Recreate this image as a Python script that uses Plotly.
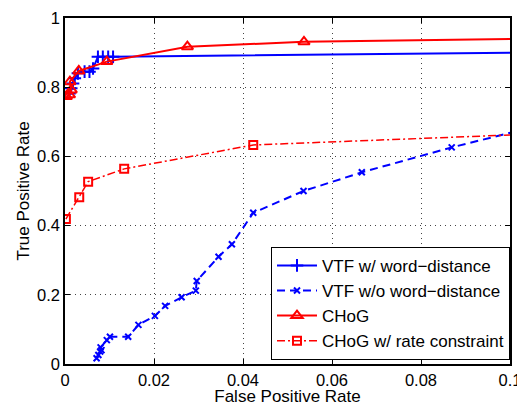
import plotly.graph_objects as go

# VTF w/ word-distance
vtf_wd_x = [0.0010, 0.0014, 0.0018, 0.0022, 0.0029, 0.0044, 0.0055, 0.0063, 0.0074, 0.0085, 0.0097, 0.0108, 0.12]
vtf_wd_y = [0.782, 0.797, 0.811, 0.826, 0.840, 0.845, 0.845, 0.854, 0.888, 0.888, 0.888, 0.888, 0.902]

# VTF w/o word-distance
vtf_nowd_x = [0.0071, 0.0075, 0.0079, 0.0082, 0.0080, 0.0094, 0.0101, 0.0142, 0.0165, 0.0202, 0.0225,
              0.0262, 0.0294, 0.0296, 0.0345, 0.0375, 0.0423, 0.0536, 0.0667, 0.0869, 0.11]
vtf_nowd_y = [0.0165, 0.026, 0.036, 0.040, 0.048, 0.069, 0.079, 0.079, 0.113, 0.139, 0.168,
              0.193, 0.212, 0.240, 0.310, 0.346, 0.437, 0.500, 0.554, 0.626, 0.700]

# CHoG
chog_x = [0.0003, 0.0010, 0.0014, 0.0011, 0.0031, 0.0094, 0.0275, 0.0537, 0.12]
chog_y = [0.773, 0.778, 0.792, 0.816, 0.847, 0.874, 0.917, 0.931, 0.943]

# CHoG w/ rate constraint
chog_rc_x = [0.0002, 0.0032, 0.0052, 0.0133, 0.0423, 0.12]
chog_rc_y = [0.419, 0.482, 0.527, 0.564, 0.633, 0.672]

x_ticks = [0, 0.02, 0.04, 0.06, 0.08, 0.1]
x_tick_labels = ["0", "0.02", "0.04", "0.06", "0.08", "0.1"]
y_ticks = [0, 0.2, 0.4, 0.6, 0.8, 1]
y_tick_labels = ["0", "0.2", "0.4", "0.6", "0.8", "1"]

BLUE = "#0000ff"
RED = "#ff0000"

fig = go.Figure()
fig.add_trace(go.Scatter(
    x=vtf_wd_x, y=vtf_wd_y, mode="lines+markers", name="VTF w/ word\u2212distance",
    line=dict(color=BLUE, width=2),
    marker=dict(symbol="cross-thin", size=9, color=BLUE, line=dict(color=BLUE, width=2)),
))
fig.add_trace(go.Scatter(
    x=vtf_nowd_x, y=vtf_nowd_y, mode="lines+markers", name="VTF w/o word\u2212distance",
    line=dict(color=BLUE, width=2, dash="8px,5px"),
    marker=dict(symbol="x-thin", size=6, color=BLUE, line=dict(color=BLUE, width=2)),
))
fig.add_trace(go.Scatter(
    x=chog_x, y=chog_y, mode="lines+markers", name="CHoG",
    line=dict(color=RED, width=2),
    marker=dict(symbol="triangle-up-open", size=10, color=RED, line=dict(color=RED, width=2)),
))
fig.add_trace(go.Scatter(
    x=chog_rc_x, y=chog_rc_y, mode="lines+markers", name="CHoG w/ rate constraint",
    line=dict(color=RED, width=1.5, dash="8px,3px,2px,3px"),
    marker=dict(symbol="square-open", size=8, color=RED, line=dict(color=RED, width=2)),
))

axis_common = dict(
    showline=True, linecolor="black", linewidth=1.5, mirror="ticks",
    ticks="inside", ticklen=5, tickcolor="black",
    showgrid=True, gridcolor="#444444", griddash="1px,4px", gridwidth=1,
    zeroline=False, tickfont=dict(size=16.5, color="black"), automargin=False,
)
fig.update_xaxes(range=[0, 0.1], tickvals=x_ticks, ticktext=x_tick_labels,
                 title=dict(text="False Positive Rate", font=dict(size=17, color="black"), standoff=1),
                 **axis_common)
fig.update_yaxes(range=[0, 1], tickvals=y_ticks, ticktext=y_tick_labels,
                 title=dict(text="True Positive Rate", font=dict(size=17, color="black"), standoff=3),
                 **axis_common)

fig.update_layout(
    width=517, height=398,
    margin=dict(l=57, r=15, t=10, b=42),
    paper_bgcolor="white", plot_bgcolor="white",
    font=dict(family="Liberation Sans, Arial, sans-serif", color="black", size=17),
    legend=dict(x=1.0, y=0.012, xanchor="right", yanchor="bottom",
                bgcolor="white", bordercolor="black", borderwidth=1,
                font=dict(size=17), tracegroupgap=0, itemwidth=40),
)

fig.write_html("out.html")
